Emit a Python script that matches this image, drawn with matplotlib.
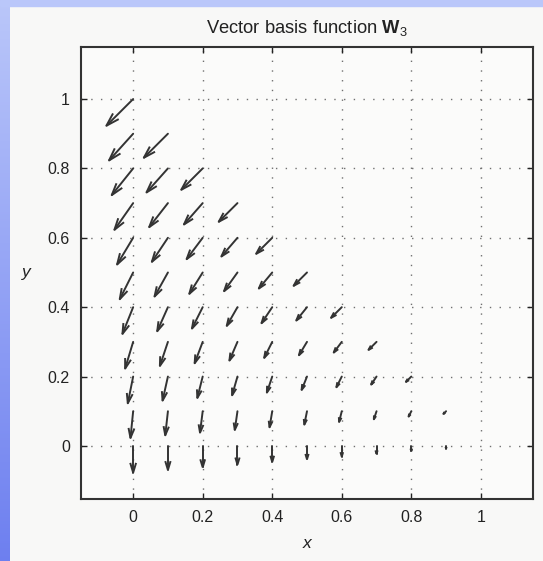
import numpy as np
import matplotlib.pyplot as plt
from matplotlib.patches import Rectangle

plt.rcParams['font.family'] = ['Liberation Sans', 'DejaVu Sans']
plt.rcParams['mathtext.fontset'] = 'custom'
plt.rcParams['mathtext.rm'] = 'Liberation Sans'
plt.rcParams['mathtext.it'] = 'Liberation Sans:italic'
plt.rcParams['mathtext.bf'] = 'Liberation Sans:bold'

# sample points inside the triangle, one row per y level
y_levels = [0.0, 0.1, 0.2, 0.3, 0.4, 0.5, 0.6, 0.7, 0.8, 0.9, 1.0]
x_rows = [
    [0.0, 0.1, 0.2, 0.3, 0.4, 0.5, 0.6, 0.7, 0.8, 0.9, 1.0],
    [0.0, 0.1, 0.2, 0.3, 0.4, 0.5, 0.6, 0.7, 0.8, 0.9],
    [0.0, 0.1, 0.2, 0.3, 0.4, 0.5, 0.6, 0.7, 0.8],
    [0.0, 0.1, 0.2, 0.3, 0.4, 0.5, 0.6, 0.7],
    [0.0, 0.1, 0.2, 0.3, 0.4, 0.5, 0.6],
    [0.0, 0.1, 0.2, 0.3, 0.4, 0.5],
    [0.0, 0.1, 0.2, 0.3, 0.4],
    [0.0, 0.1, 0.2, 0.3],
    [0.0, 0.1, 0.2],
    [0.0, 0.1],
    [0.0],
]
# vector components of W3 at those points
u_rows = [
    [0.0, 0.0, 0.0, 0.0, 0.0, 0.0, 0.0, 0.0, 0.0, 0.0, 0.0],
    [-0.1, -0.1, -0.1, -0.1, -0.1, -0.1, -0.1, -0.1, -0.1, -0.1],
    [-0.2, -0.2, -0.2, -0.2, -0.2, -0.2, -0.2, -0.2, -0.2],
    [-0.3, -0.3, -0.3, -0.3, -0.3, -0.3, -0.3, -0.3],
    [-0.4, -0.4, -0.4, -0.4, -0.4, -0.4, -0.4],
    [-0.5, -0.5, -0.5, -0.5, -0.5, -0.5],
    [-0.6, -0.6, -0.6, -0.6, -0.6],
    [-0.7, -0.7, -0.7, -0.7],
    [-0.8, -0.8, -0.8],
    [-0.9, -0.9],
    [-1.0],
]
v_rows = [
    [-1.0, -0.9, -0.8, -0.7, -0.6, -0.5, -0.4, -0.3, -0.2, -0.1, 0.0],
    [-1.0, -0.9, -0.8, -0.7, -0.6, -0.5, -0.4, -0.3, -0.2, -0.1],
    [-1.0, -0.9, -0.8, -0.7, -0.6, -0.5, -0.4, -0.3, -0.2],
    [-1.0, -0.9, -0.8, -0.7, -0.6, -0.5, -0.4, -0.3],
    [-1.0, -0.9, -0.8, -0.7, -0.6, -0.5, -0.4],
    [-1.0, -0.9, -0.8, -0.7, -0.6, -0.5],
    [-1.0, -0.9, -0.8, -0.7, -0.6],
    [-1.0, -0.9, -0.8, -0.7],
    [-1.0, -0.9, -0.8],
    [-1.0, -0.9],
    [-1.0],
]
ticks = [0, 0.2, 0.4, 0.6, 0.8, 1.0]
tick_labels = ['0', '0.2', '0.4', '0.6', '0.8', '1']

arrow_scale = 0.077
alpha, beta = 0.33, 0.3
arrow_color = '#333333'

fig = plt.figure(figsize=(5.43, 5.61), dpi=100, facecolor='#f8f8f7')

# blue frame of the slide
strip = fig.add_axes([0, 0, 10 / 543, 1])
grad = np.linspace(0, 1, 256).reshape(-1, 1, 1)
top_c = np.array([0.73, 0.78, 0.98])
bot_c = np.array([0.43, 0.50, 0.94])
strip.imshow(top_c * (1 - grad) + bot_c * grad, aspect='auto')
strip.axis('off')
fig.patches.append(Rectangle((0, 1 - 6 / 561), 1, 6 / 561, transform=fig.transFigure,
                             color=top_c, zorder=0))

ax = fig.add_axes([81 / 543, 62 / 561, 452 / 543, 452 / 561])
ax.set_facecolor('#fbfbfa')

for y, xs, us, vs in zip(y_levels, x_rows, u_rows, v_rows):
    for x, u, v in zip(xs, us, vs):
        u = u * arrow_scale
        v = v * arrow_scale
        if u == 0 and v == 0:
            continue
        ax.plot([x, x + u], [y, y + v], color=arrow_color, lw=1.4, solid_capstyle='round')
        hx = [x + u - alpha * (u + beta * v), x + u, x + u - alpha * (u - beta * v)]
        hy = [y + v - alpha * (v - beta * u), y + v, y + v - alpha * (v + beta * u)]
        ax.plot(hx, hy, color=arrow_color, lw=1.4, solid_joinstyle='miter')

ax.set_xlim(-0.15, 1.15)
ax.set_ylim(-0.153, 1.15)
ax.set_xticks(ticks)
ax.set_xticklabels(tick_labels)
ax.set_yticks(ticks)
ax.set_yticklabels(tick_labels)
ax.grid(True, color='#707070', lw=1.0, linestyle=(0, (1, 6)))
ax.tick_params(direction='in', length=4, width=1, top=True, right=True,
               labelsize=11.5, colors='#222222', pad=8)
for s in ax.spines.values():
    s.set_color('#333333')
    s.set_linewidth(1.5)

ax.set_title(r'Vector basis function $\mathbf{W}_3$', fontsize=13.2, pad=10,
             color='#222222')
ax.set_xlabel('x', fontsize=12.5, style='italic', labelpad=8, color='#222222')
ax.set_ylabel('y', fontsize=12.5, style='italic', rotation=0, va='center',
              labelpad=15, color='#222222')

fig.savefig('out.png', dpi=100, facecolor=fig.get_facecolor())
